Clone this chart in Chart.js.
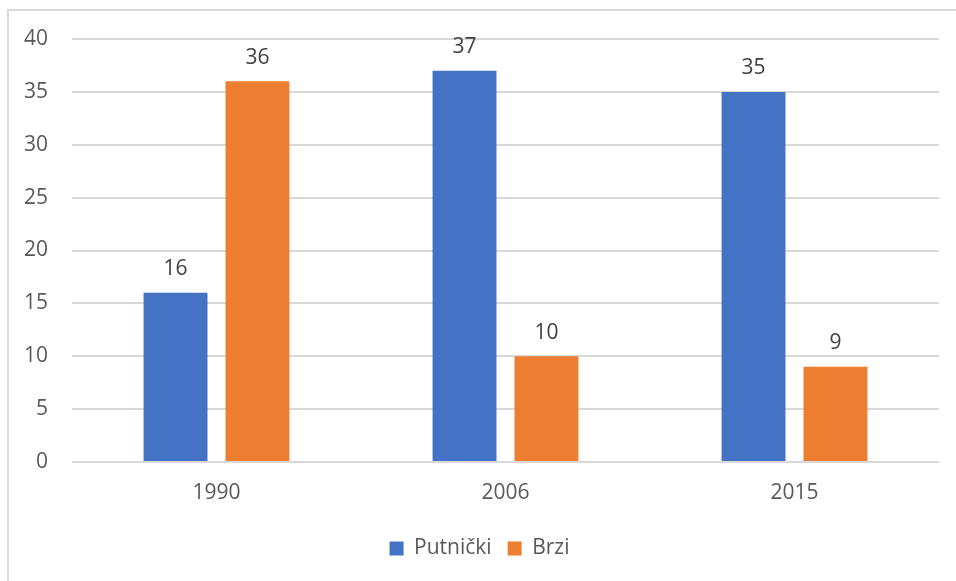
<!DOCTYPE html>
<html>
<head>
<meta charset="utf-8">
<script src="https://cdn.jsdelivr.net/npm/chart.js@4"></script>
<style>
  html, body { margin: 0; padding: 0; background: #fff; }
  #frame { position: absolute; left: 7px; top: 9px; width: 1000px; height: 600px; border: 2px solid #d9d9d9; }
  #wrap { position: absolute; left: 0; top: 0; width: 956px; height: 581px; }
</style>
</head>
<body>
<div id="frame"></div>
<div id="wrap"><canvas id="chart"></canvas></div>
<script>
const years = ['1990', '2006', '2015'];
const putnicki = [16, 37, 35];
const brzi = [36, 10, 9];
const yTicks = { min: 0, max: 40, step: 5 };

// labels above each bar, like the value labels in the original
const barLabels = {
    id: 'barLabels',
    afterDatasetsDraw(chart) {
        const ctx = chart.ctx;
        ctx.save();
        ctx.font = '21px "Open Sans"';
        ctx.fillStyle = '#404040';
        ctx.textAlign = 'center';
        ctx.textBaseline = 'bottom';
        chart.data.datasets.forEach((ds, i) => {
            chart.getDatasetMeta(i).data.forEach((bar, j) => {
                ctx.fillText(ds.data[j], bar.x, bar.y - 13);
            });
        });
        ctx.restore();
    }
};

new Chart(document.getElementById('chart'), {
    type: 'bar',
    data: {
        labels: years,
        datasets: [
            { label: 'Putnički', data: putnicki, backgroundColor: '#4472C4' },
            { label: 'Brzi', data: brzi, backgroundColor: '#ED7D31' }
        ]
    },
    options: {
        responsive: true,
        maintainAspectRatio: false,
        animation: false,
        categoryPercentage: 0.567,
        barPercentage: 0.78,
        layout: { padding: { left: 20, right: 17, top: 39, bottom: 12 } },
        plugins: {
            legend: {
                position: 'bottom',
                labels: {
                    boxWidth: 14,
                    boxHeight: 14,
                    padding: 16,
                    color: '#595959',
                    font: { family: 'Open Sans', size: 21 }
                }
            },
            tooltip: { enabled: false }
        },
        scales: {
            x: {
                grid: { display: false, drawTicks: false },
                border: { display: false },
                ticks: { color: '#595959', font: { family: 'Open Sans', size: 21 }, padding: 18 },
                afterFit(scale) { scale.height = 60; }
            },
            y: {
                min: yTicks.min,
                max: yTicks.max,
                grid: { color: '#d9d9d9', lineWidth: 2, drawTicks: false },
                border: { display: false },
                ticks: { stepSize: yTicks.step, color: '#595959', font: { family: 'Open Sans', size: 21 }, padding: 24 },
                afterFit(scale) { scale.width = 52; }
            }
        }
    },
    plugins: [barLabels]
});
</script>
</body>
</html>
